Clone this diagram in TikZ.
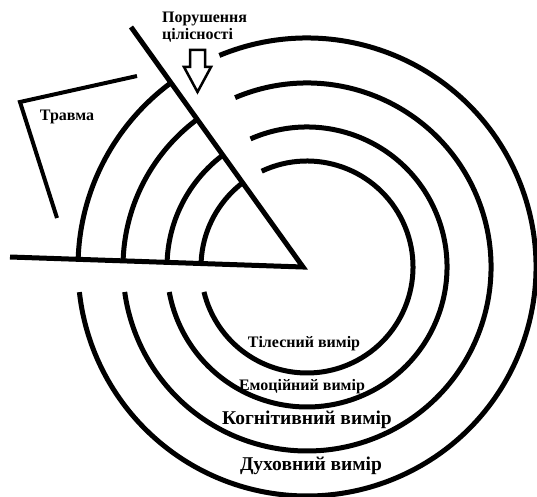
\documentclass[tikz,border=0pt]{standalone}
\usepackage{fontspec}
\setmainfont{Liberation Serif}
\begin{document}
\begin{tikzpicture}[x=1pt,y=1pt,
  ring/.style={line width=5pt},
  cut/.style={line width=5pt, line join=miter},
  bracket/.style={line width=4pt, line join=miter},
  hollowarrow/.style={line width=2.5pt, line join=miter},
  lblsmall/.style={font=\bfseries\fontsize{16}{17}\selectfont, inner sep=0pt},
  lblbig/.style={font=\bfseries\fontsize{19.5}{21}\selectfont, inner sep=0pt},
]
\useasboundingbox (0,0) rectangle (537,496);
\coordinate (C) at (307,229);
\coordinate (apex) at (303,229);
\coordinate (diagTop) at (131,469);
\coordinate (baseL) at (10,239);

% main arcs
\draw[ring] ([shift={(112.5:229)}]C) arc[start angle=112.5, end angle=-173.7, radius=229];
\draw[ring] ([shift={(113:184)}]C) arc[start angle=113, end angle=-172.2, radius=184];
\draw[ring] ([shift={(113.8:140)}]C) arc[start angle=113.8, end angle=-169.7, radius=140];
\draw[ring] ([shift={(115.3:106)}]C) arc[start angle=115.3, end angle=-166.4, radius=106];

% wedge arcs
\begin{scope}
\clip (apex) -- (baseL) -- (diagTop) -- cycle;
\foreach \r in {106,140,184,229} \draw[ring] (C) circle[radius=\r];
\end{scope}
\draw[cut] (diagTop) -- (apex) -- (baseL);

% trauma bracket
\coordinate (b1) at (137,420);
\coordinate (b2) at (20,394);
\coordinate (b3) at (57,278);
\draw[bracket] (b1) -- (b2) -- (b3);
\node[lblsmall] (trauma) at (67,379) {Травма};

% hollow arrow
\draw[hollowarrow] (190,446) -- (205,446) -- (205,429) -- (211,429) -- (197.5,404) -- (184,429) -- (190,429) -- cycle;
\node[lblsmall, align=left, anchor=west] (breach) at (162,468.5) {Порушення\\цілісності};

% labels
\node[lblsmall] (body) at (304,152) {Тілесний вимір};
\node[lblsmall] (emo) at (302,109) {Емоційний вимір};
\node[lblbig] (cog) at (307,76) {Когнітивний вимір};
\node[lblbig] (spirit) at (311,30) {Духовний вимір};
\end{tikzpicture}
\end{document}
